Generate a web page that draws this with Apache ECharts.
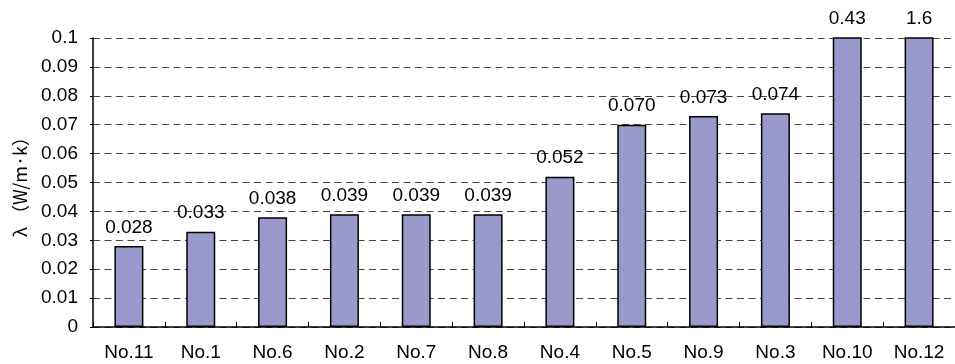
<!DOCTYPE html>
<html>
<head>
<meta charset="utf-8">
<script src="https://cdn.jsdelivr.net/npm/echarts@6/dist/echarts.min.js"></script>
<style>
  html, body { margin: 0; padding: 0; background: #fff; }
  #chart { width: 955px; height: 364px; }
</style>
</head>
<body>
<div id="chart"></div>
<script>
// Thermal conductivity of each sample (W/m·k)
const categories = ['No.11', 'No.1', 'No.6', 'No.2', 'No.7', 'No.8', 'No.4', 'No.5', 'No.9', 'No.3', 'No.10', 'No.12'];
const lambdaValues = [0.028, 0.033, 0.038, 0.039, 0.039, 0.039, 0.052, 0.070, 0.073, 0.074, 0.43, 1.6];
const yMin = 0;
const yMax = 0.1;
const yStep = 0.01;

const fontFamily = '"Liberation Sans", Arial, "Noto Sans CJK JP", sans-serif';

const chart = echarts.init(document.getElementById('chart'), null, { renderer: 'canvas' });

chart.setOption({
  animation: false,
  backgroundColor: '#ffffff',
  grid: { left: 93, top: 38, right: -7, bottom: 37, containLabel: false },
  xAxis: {
    type: 'category',
    data: categories,
    boundaryGap: true,
    axisLine: { show: true, lineStyle: { color: '#000', width: 1.5 } },
    axisTick: { show: true, inside: true, length: 5, alignWithLabel: false, lineStyle: { color: '#000', width: 1 } },
    axisLabel: { color: '#000', fontSize: 19, fontFamily: fontFamily, margin: 16 },
    splitLine: { show: false }
  },
  yAxis: {
    type: 'value',
    min: yMin,
    max: yMax,
    interval: yStep,
    name: 'λ （W/m·k）',
    nameLocation: 'middle',
    nameRotate: 90,
    nameGap: 64,
    nameTextStyle: { color: '#000', fontSize: 18, fontFamily: '"Noto Sans CJK JP", sans-serif' },
    axisLine: { show: true, lineStyle: { color: '#000', width: 1.5 } },
    axisTick: { show: true, inside: false, length: 3, lineStyle: { color: '#000' } },
    axisLabel: { color: '#000', fontSize: 19, fontFamily: fontFamily, margin: 15 },
    splitLine: { show: true, lineStyle: { color: '#444', width: 1, type: [7, 4.5] } }
  },
  series: [{
    type: 'bar',
    data: lambdaValues,
    barWidth: 29,
    clip: true,
    itemStyle: { color: '#9999cc', borderColor: '#000', borderWidth: 1.5 },
    label: {
      show: true,
      position: 'top',
      distance: 9,
      color: '#000',
      fontSize: 19,
      fontFamily: fontFamily,
      formatter: p => (p.value < 0.1 ? p.value.toFixed(3) : String(p.value))
    }
  }]
});
</script>
</body>
</html>
